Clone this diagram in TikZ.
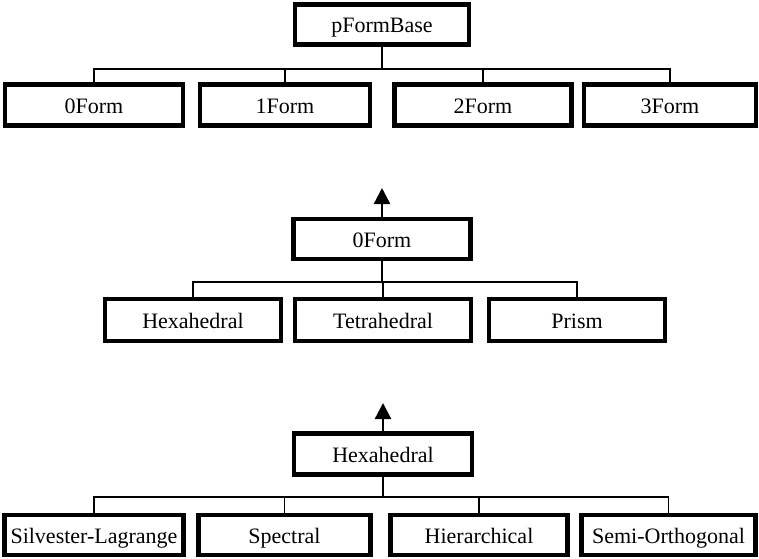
\documentclass[tikz,border=0pt]{standalone}
\usepackage{fontspec}
\setmainfont{Liberation Serif}
\usetikzlibrary{arrows.meta}
\begin{document}
\begin{tikzpicture}[x=1pt,y=-1pt,
  cls/.style={draw, line width=4.2pt, inner sep=0pt, minimum height=40pt,
              text height=16.5pt, text depth=0pt,
              font=\fontsize{22}{26}\selectfont},
  link/.style={line width=1.6pt},
  up/.style={line width=2.4pt, -{Triangle[length=16pt,width=16pt]}}]
\useasboundingbox (0,0) rectangle (759,558);

% ---- p-form hierarchy ----
\node[cls, minimum width=174pt] (base) at (382,24.5) {pFormBase};
\node[cls, minimum width=178pt, minimum height=41pt] (f0) at (94,105) {0Form};
\node[cls, minimum width=170pt, minimum height=41pt] (f1) at (285,105) {1Form};
\node[cls, minimum width=177pt, minimum height=41pt] (f2) at (483,105) {2Form};
\node[cls, minimum width=172pt, minimum height=41pt] (f3) at (670,105) {3Form};
\coordinate (bus1) at (382,69);
\draw[link] (base.south) -- (base.south |- bus1);
\draw[link] (f0.north) -- (f0.north |- bus1) -- (f3.north |- bus1) -- (f3.north);
\draw[link] (f1.north) -- (f1.north |- bus1);
\draw[link] (f2.north) -- (f2.north |- bus1);

% ---- 0-form element shapes ----
\node[cls, minimum width=177pt] (z) at (382,239) {0Form};
\coordinate (tip2) at (382,188);
\draw[up] (z.north) -- (tip2);
\node[cls, minimum width=176pt, minimum height=42pt] (hex) at (193,320) {Hexahedral};
\node[cls, minimum width=176pt, minimum height=42pt] (tet) at (383,320) {Tetrahedral};
\node[cls, minimum width=176pt, minimum height=42pt] (pri) at (577,320) {Prism};
\coordinate (bus2) at (382,282);
\draw[link] (z.south) -- (z.south |- bus2);
\draw[link] (hex.north) -- (hex.north |- bus2) -- (pri.north |- bus2) -- (pri.north);
\draw[link] (tet.north) -- (tet.north |- bus2);

% ---- hexahedral bases ----
\node[cls, minimum width=178pt, minimum height=41pt] (h) at (383,454) {Hexahedral};
\coordinate (tip3) at (383,403);
\draw[up] (h.north) -- (tip3);
\node[cls, minimum width=179pt] (sl) at (94,535) {Silvester-Lagrange};
\node[cls, minimum width=172pt] (sp) at (284.5,535) {Spectral};
\node[cls, minimum width=177pt] (hi) at (479,535) {Hierarchical};
\node[cls, minimum width=174pt] (so) at (668.5,535) {Semi-Orthogonal};
\coordinate (bus3) at (383,497);
\draw[link] (h.south) -- (h.south |- bus3);
\draw[link] (sl.north) -- (sl.north |- bus3) -- (so.north |- bus3) -- (so.north);
\draw[link] (sp.north) -- (sp.north |- bus3);
\draw[link] (hi.north) -- (hi.north |- bus3);
\end{tikzpicture}
\end{document}
